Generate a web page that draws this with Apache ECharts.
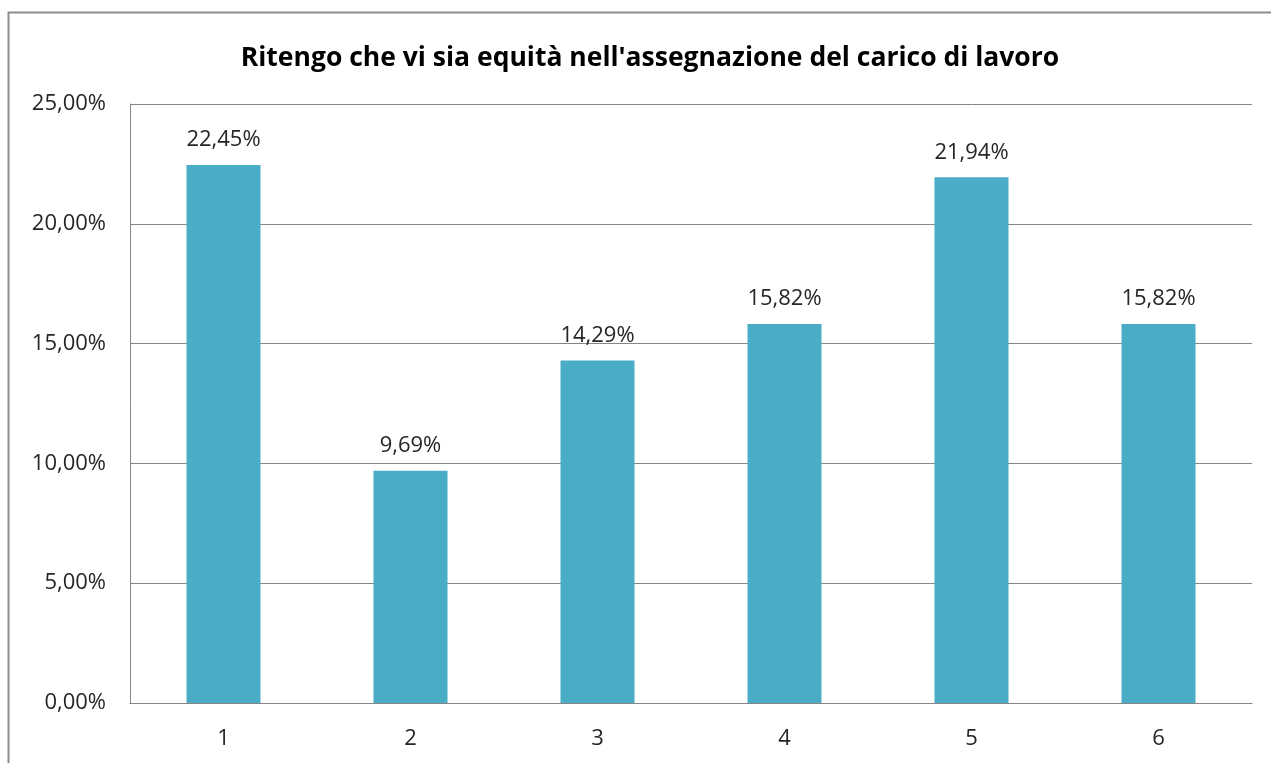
<!DOCTYPE html>
<html>
<head>
<meta charset="utf-8">
<script src="https://cdn.jsdelivr.net/npm/echarts@6/dist/echarts.min.js"></script>
<style>
  html, body { margin: 0; padding: 0; background: #fff; }
  #chart { width: 1271px; height: 763px; }
</style>
</head>
<body>
<div id="chart"></div>
<script>
const categories = ["1", "2", "3", "4", "5", "6"];
const values = [22.45, 9.69, 14.29, 15.82, 21.94, 15.82];
const yTicks = [0, 5, 10, 15, 20, 25];

const pct = v => Number(v).toFixed(2).replace(".", ",") + "%";
const font = "'Open Sans', sans-serif";

const chart = echarts.init(document.getElementById("chart"));
chart.setOption({
  backgroundColor: "#fff",
  animation: false,
  title: {
    text: "Ritengo che vi sia equità nell'assegnazione del carico di lavoro",
    left: 645,
    textAlign: "center",
    top: 40,
    textStyle: { fontFamily: font, fontSize: 26.5, fontWeight: "bold", color: "#000" }
  },
  graphic: [
    {
      type: "rect",
      shape: { x: 8.5, y: 12.5, width: 1400, height: 900 },
      style: { fill: "none", stroke: "#8c8c8c", lineWidth: 2 },
      silent: true
    }
  ],
  grid: { left: 130, right: 19, top: 104, bottom: 60 },
  xAxis: {
    type: "category",
    data: categories,
    axisLine: { lineStyle: { color: "#868686" } },
    axisTick: { show: false },
    axisLabel: { fontFamily: font, fontSize: 22, color: "#262626", margin: 25 }
  },
  yAxis: {
    type: "value",
    min: yTicks[0],
    max: yTicks[yTicks.length - 1],
    interval: 5,
    axisLine: { show: true, lineStyle: { color: "#868686" } },
    axisTick: { show: false },
    splitLine: { lineStyle: { color: "#868686" } },
    axisLabel: { fontFamily: font, fontSize: 22, color: "#262626", margin: 24, formatter: pct }
  },
  series: [
    {
      type: "bar",
      data: values,
      barWidth: 74,
      itemStyle: { color: "#4BACC6" },
      label: {
        show: true,
        position: "top",
        distance: 14,
        fontFamily: font,
        fontSize: 22,
        color: "#262626",
        formatter: p => pct(p.value)
      }
    }
  ]
});
</script>
</body>
</html>
